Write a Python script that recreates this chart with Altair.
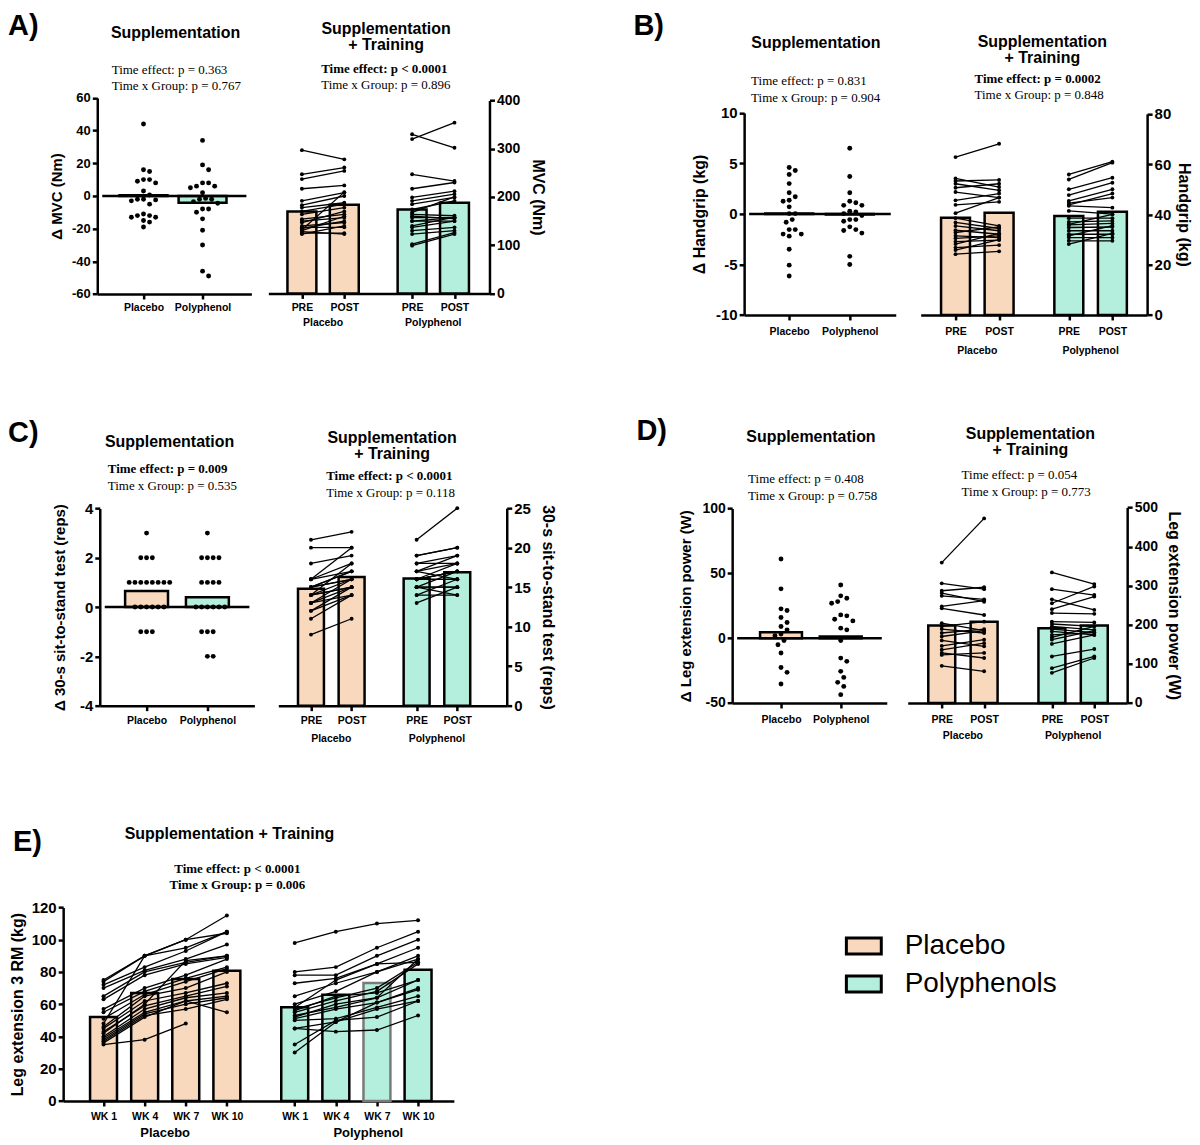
import altair as alt
import numpy as np
import pandas as pd

# ------------------------------------------------------------------ data
GROUPS = ["Placebo", "Polyphenol"]
LEGEND_NAMES = ["Placebo", "Polyphenols"]
WEEKS = ["WK 1", "WK 4", "WK 7", "WK 10"]

# A) MVC (Nm)
A_delta_placebo = [44, 16, 15, 10, 10, 9, 8, 3, 0.6, -2, -2, -2.4, -3, -5, -11, -12, -12, -13, -13, -15, -16, -19]
A_delta_poly = [34, 19, 16, 8, 8, 6, 6, 5, 2, -1.5, -2, -2, -3.5, -4.5, -8, -8, -10, -14, -21, -30, -46, -49]
A_delta_means = [0.5, -4.2]
A_pre_placebo = [297, 247, 237, 217, 192, 183, 178, 170, 164, 154, 150, 147, 140, 137, 135, 130, 128, 125, 123, 132]
A_post_placebo = [278, 261, 254, 224, 209, 202, 188, 185, 178, 164, 157, 170, 147, 137, 150, 160, 123, 125, 140, 210]
A_pre_poly = [330, 320, 247, 217, 199, 192, 185, 174, 164, 157, 150, 150, 137, 130, 123, 102, 99, 160, 168, 140]
A_post_poly = [302, 354, 233, 230, 212, 206, 199, 192, 161, 157, 150, 157, 150, 137, 130, 126, 123, 155, 200, 158]
A_means = [170, 184, 174, 188]

# B) Handgrip (kg)
B_delta_placebo = [4.6, 4.3, 3.9, 3.0, 2.1, 1.7, 1.35, 1.25, 0.7, 0.03, 0.03, -0.56, -0.82, -1.55, -1.55,
                   -2.0, -2.0, -2.2, -3.5, -5.07, -6.15]
B_delta_poly = [6.5, 3.7, 2.1, 1.25, 1.1, 0.85, 0.85, 0.26, 0.2, 0.03, -0.16, -0.56, -0.56, -0.72, -1.28,
                -1.55, -1.64, -1.9, -4.2, -5.0]
B_delta_means = [0.05, -0.05]
B_pre_placebo = [62.8, 54.3, 53.3, 52.2, 50.6, 48.9, 45.6, 43.8, 40.5, 38.5, 36.8, 35.4, 33.7, 32.8, 31.5,
                 30.5, 29.2, 28.2, 26.8, 25.8, 24.2]
B_post_placebo = [68.1, 50.9, 53.7, 49.6, 52.2, 46.7, 48.3, 45.0, 46.7, 35.4, 34.4, 33.5, 32.1, 35.0, 30.8,
                  31.5, 29.8, 32.5, 27.8, 30.0, 25.3]
B_pre_poly = [55.9, 53.9, 50.0, 47.7, 45.4, 43.8, 43.4, 41.4, 38.5, 37.0, 35.8, 34.8, 33.5, 32.1, 30.8,
              29.5, 28.2, 31.5, 36.0, 44.5]
B_post_poly = [61.0, 60.6, 54.6, 52.6, 50.0, 48.3, 42.7, 40.1, 38.5, 37.4, 36.4, 35.0, 33.5, 32.1, 30.8,
               29.5, 32.5, 35.5, 40.0, 46.7]
B_means = [38.7, 40.7, 39.4, 41.1]

# C) 30-s sit-to-stand test (reps)
C_delta_placebo = [3, 2, 2, 2, 1, 1, 1, 1, 1, 1, 1, 1, 0, 0, 0, 0, 0, 0, -1, -1, -1]
C_delta_poly = [3, 2, 2, 2, 2, 1, 1, 1, 1, 0, 0, 0, 0, 0, 0, -1, -1, -1, -2, -2]
C_delta_means = [0.65, 0.4]
C_pre_placebo = [21, 20, 18, 16, 16, 15, 15, 15, 14, 14, 14, 13, 13, 12, 12, 11, 9, 15, 16, 14, 13]
C_post_placebo = [22, 20, 19, 18, 20, 17, 16, 17, 15, 16, 18, 14, 15, 14, 15, 14, 11, 16, 17, 15, 16]
C_pre_poly = [21, 19, 18, 18, 17, 17, 16, 16, 16, 15, 15, 15, 14, 14, 13, 17, 16, 19, 15, 16]
C_post_poly = [25, 20, 19, 18, 19, 16, 17, 18, 16, 17, 15, 14, 16, 14, 15, 18, 17, 20, 15, 17]
C_means = [14.8, 16.3, 16.1, 16.9]

# D) Leg extension power (W)
D_delta_placebo = [61, 38, 22.6, 21.3, 15.9, 12.1, 9.0, 6.4, 3.1, 1.8, -1.8, -5.1, -11.5, -22.6, -26.4, -35.4]
D_delta_poly = [41, 32.6, 30.8, 28.2, 26.9, 17.9, 17.2, 14.6, 13.3, 7.7, 6.4, -1.8, -15.4, -17.9, -25.6,
                -30.3, -34.1, -37.2, -43.6]
D_delta_means = [4.6, 1.3]
D_pre_placebo = [359, 306, 287, 281, 274, 247, 242, 204, 196, 189, 179, 170, 160, 146, 136, 128, 123, 95]
D_post_placebo = [472, 291, 296, 259, 265, 262, 225, 185, 208, 179, 189, 185, 145, 162, 153, 115, 128, 81]
D_pre_poly = [334, 291, 265, 255, 240, 230, 208, 202, 196, 189, 183, 174, 168, 162, 151, 119, 89, 77]
D_post_poly = [304, 276, 238, 298, 272, 228, 206, 196, 187, 180, 174, 180, 196, 185, 174, 138, 119, 115]
D_means = [198, 208, 191, 198]

# E) Leg extension 3 RM (kg), one row per participant: WK 1, WK 4, WK 7, WK 10
E_placebo = [
    [75, 90, 100, 115], [74, 90, 95, 105], [72, 83, 93, 105], [70, 81, 88, 97], [65, 80, 86, 90],
    [63, 78, 85, 89], [57, 70, 78, 88], [55, 68, 76, 83], [51, 66, 74, 82], [48, 90, 100, 104],
    [46, 65, 70, 80], [45, 62, 67, 73], [43, 59, 65, 71], [40, 57, 64, 67], [39, 55, 62, 65],
    [38, 54, 60, 64], [37, 53, 57, 63], [35, 38, 48, None], [36, 52, 62, 55], [42, 60, 87, 90],
]
E_poly = [
    [98, 105, 110, 112], [80, 83, 95, 105], [78, 78, 90, 100], [73, 76, 85, 95], [65, 73, 80, 90],
    [60, 68, 80, 88], [58, 75, 85, 86], [57, 64, 70, 86], [55, 62, 68, 85], [53, 58, 64, 75],
    [51, 57, 61, 70], [50, 51, 58, 65], [45, 49, 57, 62], [45, 43, 44, 53], [35, 50, 52, 62],
    [30, 49, 61, 69], [56, 65, 67, 75], [52, 60, 64, 88],
]
E_means_placebo = [52, 67, 75.7, 80.8]
E_means_poly = [58.1, 65.8, 73.2, 81.4]

# ------------------------------------------------------------------ style / layout
SANS = "Liberation Sans"
SERIF = "Liberation Serif"
PEACH = "#F9D9BD"
MINT = "#B3EFDC"
M = 8                      # page margin
W, H = 1184, 1124          # whole drawing area
LW = 2.5                   # axis / bar outline width
PLAIN_NUM = "'' + datum.value"   # hyphen-minus like the original

POS_PREPOST = [0, 1, 2.6, 3.6]
POS_WEEKS = [0, 1, 2, 3, 4.65, 5.65, 6.65, 7.65]

FILL_SCALE = alt.Scale(domain=LEGEND_NAMES, range=[PEACH, MINT])


def ax(**kw):
    base = dict(labelFont=SANS, labelFontWeight="bold", labelColor="black",
                domainColor="black", domainWidth=LW, tickColor="black", tickWidth=LW,
                tickSize=5, grid=False, titleFont=SANS, titleFontWeight="bold",
                titleColor="black", labelFlush=False, labelOverlap=False, labelPadding=2)
    base.update(kw)
    return alt.Axis(**base)


def swarm_offsets(vals, ppu, diam):
    """Horizontal pixel offsets so that dots of diameter `diam` do not overlap."""
    vals = np.asarray(vals, float)
    ys = vals * ppu
    order = np.argsort(-vals, kind="stable")
    step = diam / 2.0
    cands = [0.0]
    for j in range(1, 60):
        cands += [j * step, -j * step]
    placed, offs = [], np.zeros(len(vals))
    for i in order:
        for c in cands:
            if all((c - px) ** 2 + (ys[i] - py) ** 2 >= diam ** 2 - 1e-6 for px, py in placed):
                offs[i] = c
                placed.append((c, ys[i]))
                break
    return offs


def delta_panel(groups_vals, means, lay, ydom, yticks, ytitle, fs, barw, diam):
    unit = lay["p2"] - lay["p1"]
    d0 = float(1 + (lay["x0"] - lay["p1"]) / unit)
    d1 = float(1 + (lay["x1"] - lay["p1"]) / unit)
    xs = alt.Scale(domain=[d0, d1], range=[lay["x0"] - M, lay["x1"] - M], nice=False, zero=False)
    ys = alt.Scale(domain=ydom, range=[lay["ybot"] - M, lay["ytop"] - M], nice=False, zero=False)
    ppu = (lay["ybot"] - lay["ytop"]) / (ydom[1] - ydom[0])
    rows = []
    for gi, vals in enumerate(groups_vals):
        offs = swarm_offsets(vals, ppu, diam)
        for v, o in zip(vals, offs):
            rows.append({"pos": float(gi + 1 + o / unit), "val": float(v)})
    pts = pd.DataFrame(rows)
    bars = pd.DataFrame({"pos": [1, 2], "val": means, "legend": LEGEND_NAMES})
    xaxis = ax(orient="bottom", offset=lay["ybot"] - M - H, values=[1, 2], title=None,
               labelExpr="datum.value == 1 ? 'Placebo' : 'Polyphenol'",
               labelFontSize=fs["x"], labelPadding=fs["xp"])
    yaxis = ax(orient="left", offset=-(lay["x0"] - M), values=yticks, title=ytitle,
               labelExpr=PLAIN_NUM, labelFontSize=fs["y"], titleFontSize=fs["t"],
               titlePadding=fs["tp"])
    bar_layer = alt.Chart(bars).mark_bar(orient="vertical", width=barw, stroke="black",
                                         strokeWidth=LW).encode(
        x=alt.X("pos:Q", scale=xs, axis=xaxis),
        y=alt.Y("val:Q", scale=ys, axis=yaxis),
        fill=alt.Fill("legend:N", scale=FILL_SCALE))
    zero = alt.Chart(pd.DataFrame({"k": [0]})).mark_rule(color="black", strokeWidth=LW).encode(
        x=alt.XDatum(d0, scale=xs, axis=xaxis), x2=alt.X2Datum(d1),
        y=alt.YDatum(0, scale=ys, axis=yaxis))
    pts_layer = alt.Chart(pts).mark_circle(size=24, color="black", opacity=1).encode(
        x=alt.X("pos:Q", scale=xs, axis=xaxis), y=alt.Y("val:Q", scale=ys, axis=yaxis))
    return alt.layer(bar_layer, zero, pts_layer)


def series_panel(series, means, positions, lay, ydom, yticks, ytitle, fs, barw,
                 labelexpr, group_pos, group_y, orient="right", legend=None, stroke_expr=None,
                 dot=15):
    unit = lay["p1"] - lay["p0"]
    d0 = float((lay["x0"] - lay["p0"]) / unit)
    d1 = float((lay["x1"] - lay["p0"]) / unit)
    xs = alt.Scale(domain=[d0, d1], range=[lay["x0"] - M, lay["x1"] - M], nice=False, zero=False)
    ys = alt.Scale(domain=ydom, range=[lay["ybot"] - M, lay["ytop"] - M], nice=False, zero=False)
    n_t = len(positions) // 2
    rows = []
    for gi, subjects in enumerate(series):
        for si, subj in enumerate(subjects):
            for ti, v in enumerate(subj):
                if v is not None:
                    rows.append({"pos": positions[gi * n_t + ti], "val": v, "sid": f"{gi}-{si}"})
    pts = pd.DataFrame(rows)
    bars = pd.DataFrame({"pos": positions, "val": means,
                         "legend": [LEGEND_NAMES[0]] * n_t + [LEGEND_NAMES[1]] * n_t})
    xaxis = ax(orient="bottom", offset=lay["ybot"] - M - H, values=positions, title=None,
               labelExpr=labelexpr, labelFontSize=fs["x"], labelPadding=fs["xp"])
    if orient == "right":
        yoff = lay["x1"] - M - W
    else:
        yoff = -(lay["x0"] - M)
    yaxis = ax(orient=orient, offset=yoff, values=yticks, title=ytitle, labelExpr=PLAIN_NUM,
               labelFontSize=fs["y"], titleFontSize=fs["t"], titlePadding=fs["tp"])
    stroke = alt.value("black") if stroke_expr is None else alt.condition(
        stroke_expr, alt.value("#7a7a7a"), alt.value("black"))
    fill = (alt.Fill("legend:N", scale=FILL_SCALE) if legend is None
            else alt.Fill("legend:N", scale=FILL_SCALE, legend=legend))
    bar_layer = alt.Chart(bars).mark_bar(orient="vertical", width=barw, strokeWidth=LW).encode(
        x=alt.X("pos:Q", scale=xs, axis=xaxis),
        y=alt.Y("val:Q", scale=ys, axis=yaxis),
        fill=fill, stroke=stroke)
    line_layer = alt.Chart(pts).mark_line(color="black", strokeWidth=1.3).encode(
        x=alt.X("pos:Q", scale=xs, axis=xaxis), y=alt.Y("val:Q", scale=ys, axis=yaxis),
        detail="sid:N")
    pt_layer = alt.Chart(pts).mark_circle(size=dot, color="black", opacity=1).encode(
        x=alt.X("pos:Q", scale=xs, axis=xaxis), y=alt.Y("val:Q", scale=ys, axis=yaxis))
    glab = alt.Chart(pd.DataFrame({"pos": group_pos, "label": GROUPS})).mark_text(
        font=SANS, fontWeight="bold", fontSize=fs["g"], color="black", baseline="alphabetic").encode(
        x=alt.X("pos:Q", scale=xs, axis=xaxis), y=alt.value(group_y - M), text="label:N")
    return alt.layer(bar_layer, line_layer, pt_layer, glab)


def prepost(pre_pla, post_pla, pre_pol, post_pol, means, **kw):
    series = [list(zip(pre_pla, post_pla)), list(zip(pre_pol, post_pol))]
    return series_panel(series, means, POS_PREPOST,
                        labelexpr="datum.value == 0 || datum.value == 2.6 ? 'PRE' : 'POST'",
                        group_pos=[0.5, 3.1], **kw)


def text(s, x, y, size, weight="normal", font=SANS, align="left", baseline="alphabetic"):
    return alt.Chart(pd.DataFrame({"k": [0]})).mark_text(
        text=s, font=font, fontSize=size, fontWeight=weight, color="black",
        align=align, baseline=baseline).encode(x=alt.value(x - M), y=alt.value(y - M))


FS_SMALL = dict(x=10.5, xp=4, y=13, t=15, tp=8, g=10.5)

# ------------------------------------------------------------------ panels
pA1 = delta_panel([A_delta_placebo, A_delta_poly], A_delta_means,
                  dict(x0=97.5, x1=252, p1=141.7, p2=205, ytop=96.7, ybot=293.3),
                  [-60, 60], [-60, -40, -20, 0, 20, 40, 60], "Δ MVC (Nm)",
                  dict(FS_SMALL, tp=7), 48, 6.5)
pA2 = prepost(A_pre_placebo, A_post_placebo, A_pre_poly, A_post_poly, A_means,
              lay=dict(x0=269, x1=490.7, p0=299, p1=343.5, ytop=99.3, ybot=292.7),
              ydom=[0, 400], yticks=[0, 100, 200, 300, 400], ytitle="MVC (Nm)",
              fs=dict(FS_SMALL, y=14, t=16, tp=10), barw=29, group_y=325)

pB1 = delta_panel([B_delta_placebo, B_delta_poly], B_delta_means,
                  dict(x0=746, x1=898, p1=789, p2=854, ytop=111.7, ybot=314.3),
                  [-10, 10], [-10, -5, 0, 5, 10], "Δ Handgrip (kg)",
                  dict(FS_SMALL, y=15, t=16, tp=8, xp=7), 48, 6.5)
pB2 = prepost(B_pre_placebo, B_post_placebo, B_pre_poly, B_post_poly, B_means,
              lay=dict(x0=923, x1=1150, p0=954.3, p1=1000, ytop=112.7, ybot=314.3),
              ydom=[0, 80], yticks=[0, 20, 40, 60, 80], ytitle="Handgrip (kg)",
              fs=dict(FS_SMALL, y=15, t=16, tp=5, xp=7), barw=29, group_y=353)

pC1 = delta_panel([C_delta_placebo, C_delta_poly], C_delta_means,
                  dict(x0=100, x1=255, p1=144.8, p2=210, ytop=508.3, ybot=706),
                  [-4, 4], [-4, -2, 0, 2, 4], "Δ 30-s sit-to-stand test (reps)",
                  dict(FS_SMALL, y=15, t=15, tp=12, xp=5), 43, 6.2)
pC2 = prepost(C_pre_placebo, C_post_placebo, C_pre_poly, C_post_poly, C_means,
              lay=dict(x0=279, x1=508, p0=308, p1=350.6, ytop=508, ybot=706),
              ydom=[0, 25], yticks=[0, 5, 10, 15, 20, 25], ytitle="30-s sit-to-stand test (reps)",
              fs=dict(FS_SMALL, y=15, t=16, tp=9, xp=5), barw=26, group_y=742)

pD1 = delta_panel([D_delta_placebo, D_delta_poly], D_delta_means,
                  dict(x0=734, x1=889, p1=781, p2=845, ytop=508.3, ybot=703.3),
                  [-50, 100], [-50, 0, 50, 100], "Δ Leg extension power (W)",
                  dict(FS_SMALL, y=14, t=15, tp=8, xp=7), 42, 6.5)
pD2 = prepost(D_pre_placebo, D_post_placebo, D_pre_poly, D_post_poly, D_means,
              lay=dict(x0=910, x1=1130, p0=940.5, p1=985, ytop=507.3, ybot=703.3),
              ydom=[0, 500], yticks=[0, 100, 200, 300, 400, 500], ytitle="Leg extension power (W)",
              fs=dict(FS_SMALL, y=14, t=16, tp=8, xp=7), barw=27, group_y=739)

legend = alt.Legend(orient="none", legendX=839, legendY=920, title=None,
                    symbolType="M-1,-0.457H1V0.457H-1Z", symbolSize=1225,
                    symbolStrokeColor="black", symbolStrokeWidth=3, symbolOpacity=1,
                    labelFont=SANS, labelFontSize=28, labelColor="black", labelOffset=22,
                    rowPadding=5, padding=0, labelLimit=0)
pE = series_panel([E_placebo, E_poly], E_means_placebo + E_means_poly, POS_WEEKS,
                  dict(x0=63.3, x1=455, p0=99.7, p1=142, ytop=908.3, ybot=1102.3),
                  [0, 120], [0, 20, 40, 60, 80, 100, 120], "Leg extension 3 RM (kg)",
                  dict(x=10.5, xp=6, y=15, t=16, tp=6, g=13), 27,
                  labelexpr="['WK 1','WK 4','WK 7','WK 10'][round(datum.value >= 4 ? datum.value - 4.65 : datum.value)]",
                  group_pos=[1.5, 6.44], group_y=1138, orient="left", legend=legend,
                  stroke_expr="datum.pos == 6.65", dot=16)

# ------------------------------------------------------------------ annotations
T = 16      # subplot title size
P = 13      # statistics text size
L = 29      # panel letter size
texts = [
    text("A)", 8, 11, L, "bold", baseline="top"), text("B)", 635, 11, L, "bold", baseline="top"),
    text("C)", 8, 419, L, "bold", baseline="top"), text("D)", 638, 417, L, "bold", baseline="top"),
    text("E)", 13, 829, L, "bold", baseline="top"),
    # titles
    text("Supplementation", 176, 37, T, "bold", align="center"),
    text("Supplementation", 387, 33, T, "bold", align="center"),
    text("+ Training", 387, 49, T, "bold", align="center"),
    text("Supplementation", 818, 47, T, "bold", align="center"),
    text("Supplementation", 1045, 46, T, "bold", align="center"),
    text("+ Training", 1045, 62, T, "bold", align="center"),
    text("Supplementation", 170, 447, T, "bold", align="center"),
    text("Supplementation", 393, 443, T, "bold", align="center"),
    text("+ Training", 393, 459, T, "bold", align="center"),
    text("Supplementation", 813, 442, T, "bold", align="center"),
    text("Supplementation", 1033, 439, T, "bold", align="center"),
    text("+ Training", 1033, 455, T, "bold", align="center"),
    text("Supplementation + Training", 230, 840, T, "bold", align="center"),
    # statistics
    text("Time effect: p = 0.363", 112, 73, P, font=SERIF),
    text("Time x Group: p = 0.767", 112, 89, P, font=SERIF),
    text("Time effect: p < 0.0001", 322, 72, P, "bold", font=SERIF),
    text("Time x Group: p = 0.896", 322, 88, P, font=SERIF),
    text("Time effect: p = 0.831", 753, 84, P, font=SERIF),
    text("Time x Group: p = 0.904", 753, 101, P, font=SERIF),
    text("Time effect: p = 0.0002", 977, 82, P, "bold", font=SERIF),
    text("Time x Group: p = 0.848", 977, 98, P, font=SERIF),
    text("Time effect: p = 0.009", 108, 473, P, "bold", font=SERIF),
    text("Time x Group: p = 0.535", 108, 490, P, font=SERIF),
    text("Time effect: p < 0.0001", 327, 480, P, "bold", font=SERIF),
    text("Time x Group: p = 0.118", 327, 497, P, font=SERIF),
    text("Time effect: p = 0.408", 750, 483, P, font=SERIF),
    text("Time x Group: p = 0.758", 750, 500, P, font=SERIF),
    text("Time effect: p = 0.054", 964, 479, P, font=SERIF),
    text("Time x Group: p = 0.773", 964, 496, P, font=SERIF),
    text("Time effect: p < 0.0001", 238, 874, P, "bold", font=SERIF, align="center"),
    text("Time x Group: p = 0.006", 238, 890, P, "bold", font=SERIF, align="center"),
]

chart = alt.layer(pA1, pA2, pB1, pB2, pC1, pC2, pD1, pD2, pE, *texts).resolve_scale(
    x="independent", y="independent"
).properties(width=W, height=H, padding=0, background="white").configure_view(stroke=None)

chart.save("out.html", embed_options={"renderer": "svg", "actions": False})
